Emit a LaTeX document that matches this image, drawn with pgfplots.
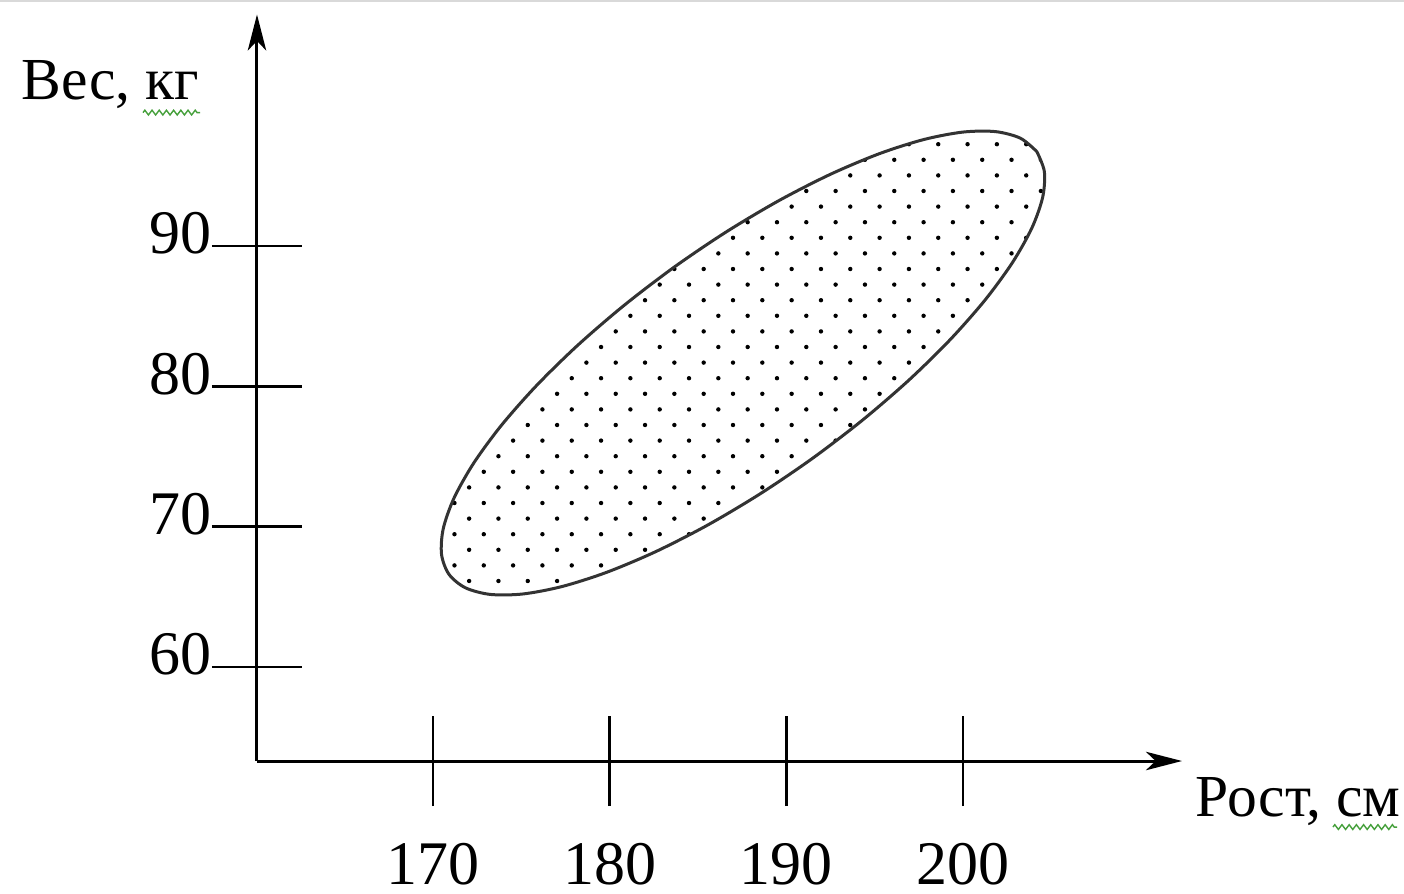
\documentclass[border=0pt]{standalone}
\usepackage{fontspec}
\setmainfont{Liberation Serif}
\usepackage{pgfplots}
\pgfplotsset{compat=1.18}
\usetikzlibrary{arrows.meta,patterns,decorations.pathmorphing}

% staggered dot grid like the original fill
\pgfdeclarepatternformonly{sparsedots}{\pgfqpoint{-0.7pt}{-0.7pt}}{\pgfqpoint{4.4pt}{4.6pt}}{\pgfqpoint{7.33pt}{7.8pt}}{%
  \pgfpathcircle{\pgfqpoint{0pt}{0pt}}{0.55pt}%
  \pgfpathcircle{\pgfqpoint{3.665pt}{3.9pt}}{0.55pt}%
  \pgfusepath{fill}}

\definecolor{squig}{RGB}{70,160,60}
\newcommand{\tickfont}{\fontsize{15.5}{18}\selectfont}
\newcommand{\labfont}{\fontsize{14.9}{18}\selectfont}

\begin{document}
\begin{tikzpicture}
\useasboundingbox (-64.25pt,-33pt) rectangle (286.75pt,190.25pt);
\draw[black!15, line width=0.5pt] (-64.25pt,190pt) -- (286.75pt,190pt);
\begin{axis}[
  at={(0,0)}, anchor=south west,
  x=4.4167pt, y=3.508pt,
  xmin=160.04, xmax=212.4, ymin=53.3, ymax=106.5,
  axis lines=left,
  axis line style={line width=0.75pt, -{Stealth[length=9pt,width=4.6pt,inset=2.4pt]}},
  xtick={170,180,190,200}, ytick={60,70,80,90},
  tick align=center, major tick length=22.5pt,
  tick style={line width=0.65pt, black},
  tick label style={font=\tickfont},
  /pgf/number format/assume math mode=true,
  xticklabel style={anchor=north, inner sep=0pt, yshift=-9.2pt},
  yticklabel style={anchor=east, inner sep=0pt, yshift=3.1pt},
  xlabel={Рост, см}, ylabel={Вес, кг},
  every axis x label/.style={at={(axis description cs:1.014,-0.075)}, anchor=base west, inner sep=0pt, font=\labfont},
  every axis y label/.style={at={(axis description cs:-0.0616,0.886)}, anchor=base east, inner sep=0pt, font=\labfont},
  clip=false,
]
\addplot[draw=black!80, line width=0.75pt, pattern=sparsedots, smooth] coordinates {
  (204.183,96.727) (203.253,97.683) (201.846,98.154) (200.004,98.122)
  (197.783,97.590) (195.254,96.575) (192.488,95.107) (189.572,93.230)
  (186.594,91.001) (183.647,88.490) (180.818,85.771) (178.192,82.926)
  (175.852,80.043) (173.866,77.209) (172.297,74.512) (171.190,72.032)
  (170.580,69.842) (170.487,68.013) (170.911,66.599) (171.841,65.643)
  (173.248,65.172) (175.090,65.204) (177.311,65.736) (179.840,66.751)
  (182.606,68.219) (185.522,70.096) (188.500,72.325) (191.447,74.836)
  (194.276,77.555) (196.902,80.400) (199.242,83.283) (201.228,86.117)
  (202.797,88.814) (203.904,91.294) (204.514,93.484) (204.607,95.313)
  (204.183,96.727)
};
\draw[squig, line width=0.35pt, decorate, decoration={zigzag, amplitude=0.6pt, segment length=1.8pt}]
  (axis description cs:-0.1232,0.8686) -- (axis description cs:-0.0616,0.8686);
\draw[squig, line width=0.35pt, decorate, decoration={zigzag, amplitude=0.6pt, segment length=1.8pt}]
  (axis description cs:1.1632,-0.0885) -- (axis description cs:1.2324,-0.0885);
\end{axis}
\end{tikzpicture}
\end{document}
